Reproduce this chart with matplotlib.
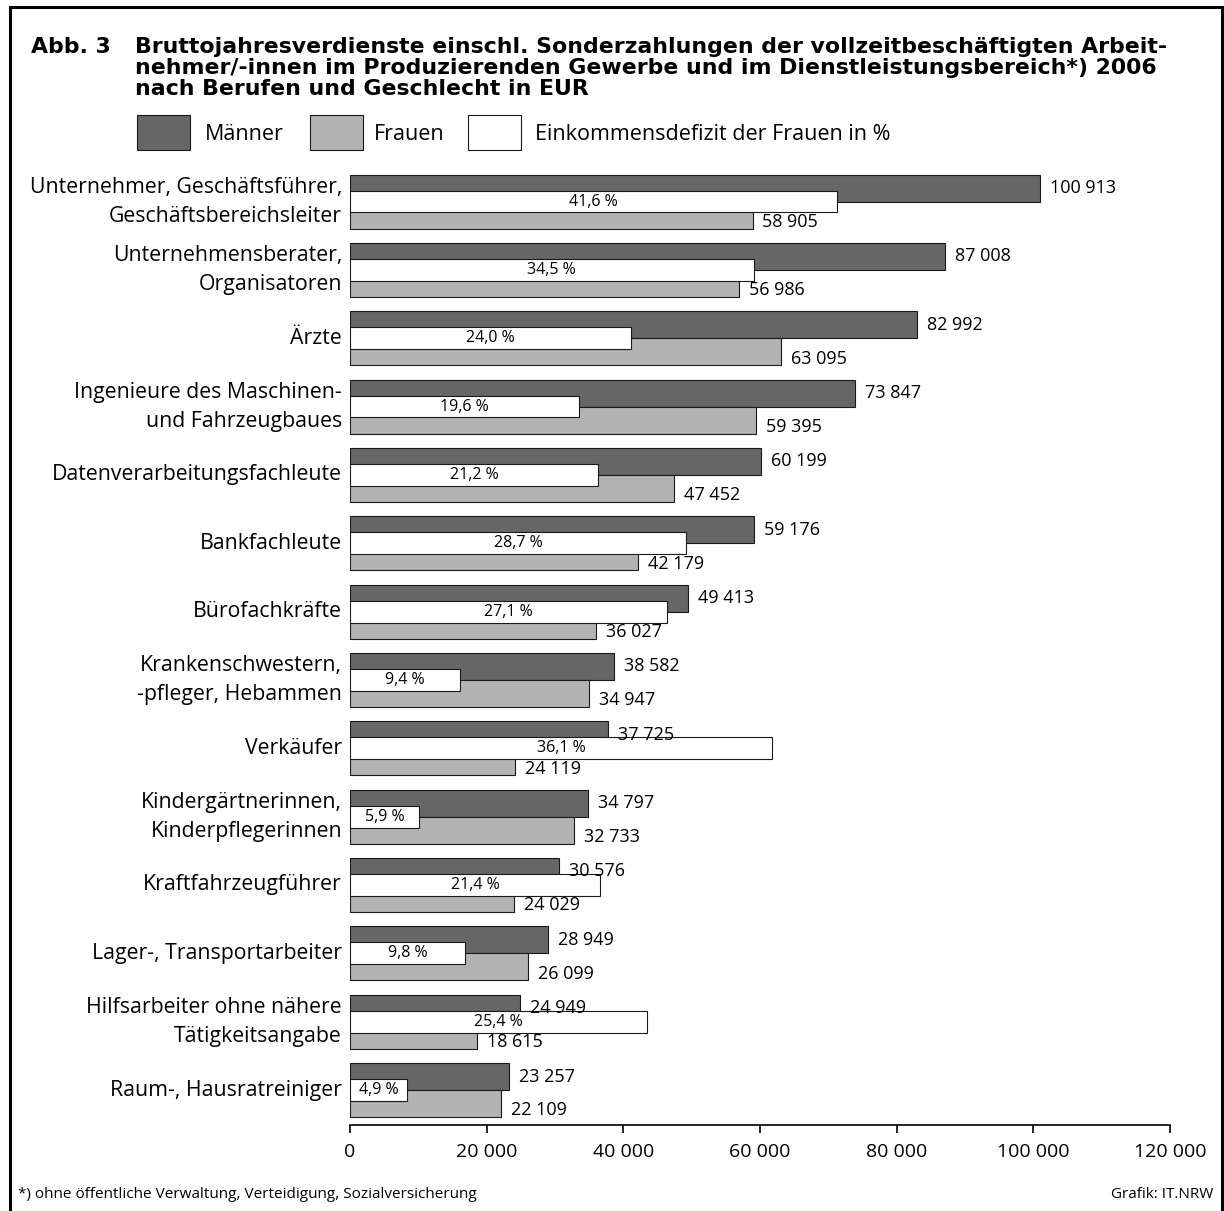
import matplotlib
matplotlib.use('Agg')
import matplotlib.pyplot as plt
from matplotlib.patches import Rectangle

plt.rcParams['font.family'] = ['Open Sans', 'DejaVu Sans']

berufe = ['Unternehmer, Geschäftsführer,\nGeschäftsbereichsleiter',
          'Unternehmensberater,\nOrganisatoren',
          'Ärzte',
          'Ingenieure des Maschinen-\nund Fahrzeugbaues',
          'Datenverarbeitungsfachleute',
          'Bankfachleute',
          'Bürofachkräfte',
          'Krankenschwestern,\n-pfleger, Hebammen',
          'Verkäufer',
          'Kindergärtnerinnen,\nKinderpflegerinnen',
          'Kraftfahrzeugführer',
          'Lager-, Transportarbeiter',
          'Hilfsarbeiter ohne nähere\nTätigkeitsangabe',
          'Raum-, Hausratreiniger']
maenner = [100913, 87008, 82992, 73847, 60199, 59176, 49413,
           38582, 37725, 34797, 30576, 28949, 24949, 23257]
frauen = [58905, 56986, 63095, 59395, 47452, 42179, 36027,
          34947, 24119, 32733, 24029, 26099, 18615, 22109]
defizit = [41.6, 34.5, 24.0, 19.6, 21.2, 28.7, 27.1,
           9.4, 36.1, 5.9, 21.4, 9.8, 25.4, 4.9]
xticks = [0, 20000, 40000, 60000, 80000, 100000, 120000]

titel = ('Bruttojahresverdienste einschl. Sonderzahlungen der vollzeitbeschäftigten Arbeit-\n'
         'nehmer/-innen im Produzierenden Gewerbe und im Dienstleistungsbereich*) 2006\n'
         'nach Berufen und Geschlecht in EUR')

# white bar length: EUR-axis units per percent point
pct_scale = 1712

dark = '#666666'
light = '#b3b3b3'
edge = '#1a1a1a'

W, H = 1224, 1211

def fmt(v):
    return '{:,}'.format(v).replace(',', ' ')

fig = plt.figure(figsize=(W/100, H/100), dpi=100)
ax = fig.add_axes([350/W, (H-1125)/H, 820/W, 964.5/H])

h = 0.395
for i in range(len(berufe)):
    ax.barh(i - h/2, maenner[i], height=h, color=dark, edgecolor=edge, linewidth=0.8)
    ax.barh(i + h/2, frauen[i], height=h, color=light, edgecolor=edge, linewidth=0.8)
    w = defizit[i] * pct_scale
    ax.barh(i, w, height=0.32, color='white', edgecolor=edge, linewidth=0.8)
    ax.text(w/2, i, ('%.1f %%' % defizit[i]).replace('.', ','), ha='center', va='center', fontsize=11.5)
    ax.text(maenner[i] + 1460, i - h/2, fmt(maenner[i]), ha='left', va='center', fontsize=13)
    ax.text(frauen[i] + 1460, i + h/2 + 0.1, fmt(frauen[i]), ha='left', va='center', fontsize=13)
    ax.text(-1170, i, berufe[i], ha='right', va='center', fontsize=15.3, linespacing=1.5)

ax.set_xlim(0, 120000)
ax.set_ylim(13.512, -0.6)
ax.set_yticks([])
ax.set_xticks(xticks)
ax.set_xticklabels([fmt(t) for t in xticks], fontsize=14)
ax.tick_params(axis='x', direction='out', length=6, width=1.2, pad=7)
for s in ['left', 'right', 'top']:
    ax.spines[s].set_visible(False)
ax.spines['bottom'].set_linewidth(1.2)

# title
fig.text(31/W, 1-53/H, 'Abb. 3', fontsize=15.8, fontweight='bold', va='baseline',
         family='DejaVu Sans')
fig.text(135/W, 1-37/H, titel, fontsize=15.8, fontweight='bold', va='top',
         linespacing=1.06, family='DejaVu Sans')

# legend
leg = [(137, 205, dark, 'Männer'), (310, 374, light, 'Frauen'),
       (468, 535, 'white', 'Einkommensdefizit der Frauen in %')]
for x0, xt, c, lab in leg:
    fig.add_artist(Rectangle((x0/W, 1-150/H), 53/W, 35/H, transform=fig.transFigure,
                             facecolor=c, edgecolor=edge, linewidth=0.8))
    fig.text(xt/W, 1-134/H, lab, fontsize=15.5, va='center')

# footnote
fig.text(18/W, 1-1195/H, '*) ohne öffentliche Verwaltung, Verteidigung, Sozialversicherung',
         fontsize=11, va='center')
fig.text(1213/W, 1-1195/H, 'Grafik: IT.NRW', fontsize=11, va='center', ha='right')

# frame
fig.add_artist(Rectangle((9.5/W, -5/H), 1212/W, 1209/H, transform=fig.transFigure,
                         facecolor='none', edgecolor='black', linewidth=2.2))

fig.savefig('out.png', dpi=100)
